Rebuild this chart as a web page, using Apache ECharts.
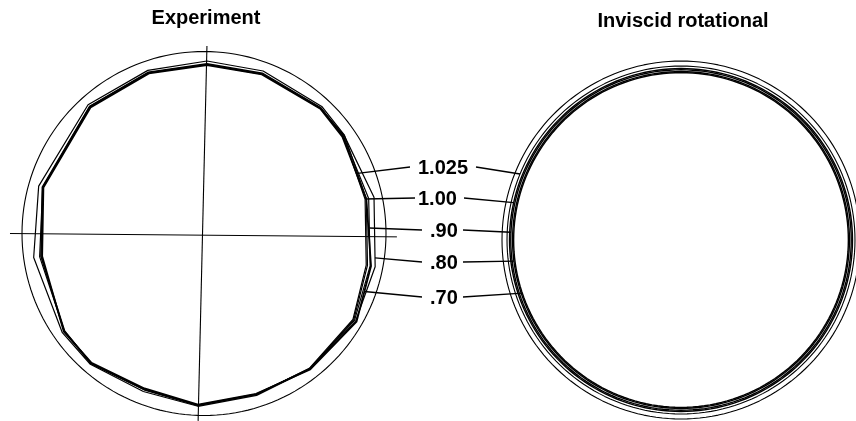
<!DOCTYPE html>
<html>
<head>
<meta charset="utf-8">
<script src="https://cdn.jsdelivr.net/npm/echarts@6/dist/echarts.min.js"></script>
<style>
  html, body { margin: 0; padding: 0; background: #fff; }
  #chart { width: 856px; height: 421px; }
</style>
</head>
<body>
<div id="chart"></div>
<script>
// Contour levels shared by both cross-sections
const levels = ['1.025', '1.00', '.90', '.80', '.70'];

// Experiment: contours measured at the rake angles (deg, counter-clockwise from +x),
// radius given as a fraction of the duct wall radius
const rakeAngles = [89, 70, 47, 35, 12, 349, 330, 308, 288, 268, 249, 229, 215, 188, 164, 132, 109];
const exp1025 = [0.948, 0.950, 0.952, 0.942, 0.912, 0.915, 0.950, 0.945, 0.935, 0.950, 0.930, 0.952, 0.950, 0.945, 0.945, 0.952, 0.948];
const exp100  = [0.934, 0.938, 0.944, 0.934, 0.905, 0.908, 0.945, 0.940, 0.930, 0.946, 0.920, 0.948, 0.938, 0.905, 0.925, 0.940, 0.938];
const exp090  = [0.930, 0.934, 0.940, 0.935, 0.925, 0.930, 0.955, 0.942, 0.930, 0.944, 0.918, 0.946, 0.936, 0.912, 0.922, 0.938, 0.935];
const exp080  = [0.928, 0.932, 0.939, 0.940, 0.955, 0.958, 0.962, 0.944, 0.928, 0.943, 0.915, 0.945, 0.934, 0.904, 0.920, 0.936, 0.933];
const exp070  = [0.925, 0.930, 0.937, 0.928, 0.912, 0.935, 0.968, 0.948, 0.926, 0.941, 0.912, 0.942, 0.940, 0.898, 0.918, 0.932, 0.930];
const experimentContours = [exp1025, exp100, exp090, exp080, exp070];

// Inviscid rotational: axisymmetric contours, radius as a fraction of the wall radius
const inviscidRadii = [0.972, 0.958, 0.951, 0.941, 0.935];
const wallRadius = 1.0;

// Reference axes through the experimental section, [radius, angle]
const crossHorizontal = [[1.066, 180], [1.060, 359]];
const crossVertical = [[1.030, 89.1], [1.030, 268.2]];

// Angles at which the leader lines meet their contours
const leaderAngleLeft = [21.4, 12.1, 1.9, 351.9, 340.1];
const leaderAngleRight = [157.7, 167.4, 177.4, 187.2, 198.5];

const FONT = 'bold 20px "Liberation Sans", Arial, Helvetica, sans-serif';
const INK = '#000';

function circlePoints(r) {
  const pts = [];
  for (let a = 0; a <= 360; a += 2) pts.push([r, a]);
  return pts;
}
function contourPoints(radii) {
  const pts = radii.map((r, i) => [r, rakeAngles[i]]);
  pts.push(pts[0]);
  return pts;
}
function lineSeries(polarIndex, data, width) {
  return {
    type: 'line', coordinateSystem: 'polar', polarIndex: polarIndex,
    data: data, symbol: 'none', smooth: false, silent: true, clip: false,
    lineStyle: { color: INK, width: width }
  };
}

const series = [];
// left section: wall, measured contours, reference axes
series.push(lineSeries(0, circlePoints(wallRadius), 1.1));
const expSeriesStart = series.length;
experimentContours.forEach((c, i) => series.push(lineSeries(0, contourPoints(c), i === 4 ? 1.8 : 1.2)));
series.push(lineSeries(0, crossHorizontal, 1));
series.push(lineSeries(0, crossVertical, 1.1));
// right section: wall and computed contours
series.push(lineSeries(1, circlePoints(wallRadius), 1.1));
const invSeriesStart = series.length;
inviscidRadii.forEach((r, i) => series.push(lineSeries(1, circlePoints(r), i === 0 ? 1.1 : 1.4)));

const polarAxis = (idx) => ({
  angle: { polarIndex: idx, type: 'value', min: 0, max: 360, startAngle: 0, clockwise: false, show: false },
  radius: { polarIndex: idx, type: 'value', min: 0, max: 1.1, show: false }
});

const chart = echarts.init(document.getElementById('chart'), null, { renderer: 'canvas' });
chart.setOption({
  animation: false,
  backgroundColor: '#fff',
  polar: [
    { center: [204, 233.5], radius: 182 * 1.1 },
    { center: [681, 240], radius: 179 * 1.1 }
  ],
  angleAxis: [polarAxis(0).angle, polarAxis(1).angle],
  radiusAxis: [polarAxis(0).radius, polarAxis(1).radius],
  series: series
});

// Where a ray from the centre at angle phi crosses a measured contour
function rayHit(radii, phi) {
  const d = [Math.cos(phi * Math.PI / 180), Math.sin(phi * Math.PI / 180)];
  const pts = contourPoints(radii).map(([r, a]) => [r * Math.cos(a * Math.PI / 180), r * Math.sin(a * Math.PI / 180)]);
  const cross = (u, v) => u[0] * v[1] - u[1] * v[0];
  for (let i = 0; i < pts.length - 1; i++) {
    const P = pts[i], e = [pts[i + 1][0] - P[0], pts[i + 1][1] - P[1]];
    const den = cross(d, e);
    if (Math.abs(den) < 1e-12) continue;
    const s = cross(P, e) / den, t = cross(P, d) / den;
    if (s > 0 && t >= 0 && t <= 1) return s;
  }
  return radii[0];
}

// Level labels with leader lines to both sections
const labelY = [167, 198, 230, 262, 297];
const labelX = [418, 418, 430, 430, 430];
const leaderFrom = [410, 415, 422, 422, 422];
const leaderTo = [476, 464, 463, 463, 463];
const graphics = [];
levels.forEach((lv, i) => {
  graphics.push({ type: 'text', silent: true,
    style: { text: lv, x: labelX[i], y: labelY[i] + 1, font: FONT, fill: INK, textAlign: 'left', textVerticalAlign: 'middle' } });
  const sL = rayHit(experimentContours[i], leaderAngleLeft[i]);
  const pL = chart.convertToPixel({ seriesIndex: expSeriesStart + i }, [sL, leaderAngleLeft[i]]);
  const pR = chart.convertToPixel({ seriesIndex: invSeriesStart + i }, [inviscidRadii[i], leaderAngleRight[i]]);
  graphics.push({ type: 'line', silent: true,
    shape: { x1: leaderFrom[i], y1: labelY[i], x2: pL[0], y2: pL[1] }, style: { stroke: INK, lineWidth: 1.4 } });
  graphics.push({ type: 'line', silent: true,
    shape: { x1: leaderTo[i], y1: labelY[i], x2: pR[0], y2: pR[1] }, style: { stroke: INK, lineWidth: 1.4 } });
});
// Section titles
graphics.push({ type: 'text', silent: true,
  style: { text: 'Experiment', x: 206, y: 18, font: FONT, fill: INK, textAlign: 'center', textVerticalAlign: 'middle' } });
graphics.push({ type: 'text', silent: true,
  style: { text: 'Inviscid rotational', x: 683, y: 21, font: FONT, fill: INK, textAlign: 'center', textVerticalAlign: 'middle' } });

chart.setOption({ graphic: graphics });
</script>
</body>
</html>
